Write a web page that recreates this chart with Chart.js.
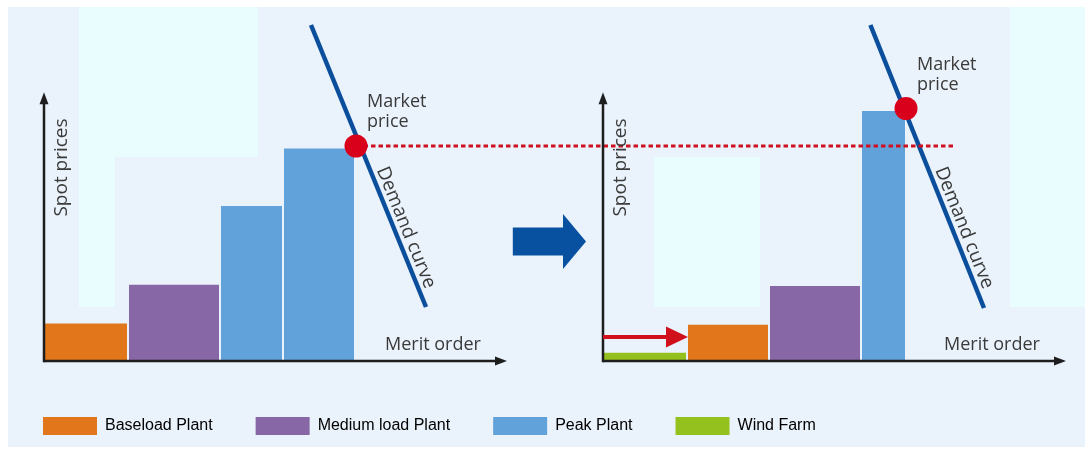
<!DOCTYPE html>
<html>
<head>
<meta charset="utf-8">
<script src="https://cdn.jsdelivr.net/npm/chart.js"></script>
<style>
  html, body { margin: 0; padding: 0; background: #fff; }
</style>
</head>
<body>
<canvas id="meritChart" width="1088" height="452"></canvas>
<script>
// plant types shown in the legend
var plantTypes = ["Baseload Plant", "Medium load Plant", "Peak Plant", "Wind Farm"];
var plantColors = ["#E2761A", "#8767A6", "#62A2DB", "#95C11F"];

// merit order before wind: capacity of each block and its price
var beforePlants = ["Baseload Plant", "Medium load Plant", "Peak Plant", "Peak Plant"];
var beforeWidths = [21, 23, 15.75, 17.75];
var beforePrices = [15, 30.5, 62, 85];

// merit order with the wind farm in front
var afterPlants = ["Wind Farm", "Baseload Plant", "Medium load Plant", "Peak Plant"];
var afterWidths = [21, 20.5, 23, 11];
var afterPrices = [3.3, 14.5, 30, 100];

// demand curve ends [capacity, price] and the clearing point
var demandBefore = [[66.75, 134.4], [95.5, 21.6]];
var demandAfter = [[66.85, 134.4], [95.25, 21.2]];
var marketBefore = [78, 86];
var marketAfter = [75.75, 101];

// second diagram sits to the right of the first one
var panelShift = 139.75;
var axisLen = { x: 115.75, y: 107.5 };
var oldPriceEnd = 87.5;
var captionLevel = 75.6;

var colorOf = {};
plantTypes.forEach(function (t, i) { colorOf[t] = plantColors[i]; });

function blocks(plants, widths, prices, shift) {
  var sets = [];
  var x = 0;
  for (var i = 0; i < widths.length; i++) {
    var x0 = x + (i > 0 ? 0.25 : 0);
    var x1 = x + widths[i] - (i < widths.length - 1 ? 0.25 : 0);
    sets.push({
      label: plants[i],
      data: [
        { x: shift + x0, y: 0 }, { x: shift + x0, y: prices[i] },
        { x: shift + x1, y: prices[i] }, { x: shift + x1, y: 0 }
      ],
      backgroundColor: colorOf[plants[i]],
      borderWidth: 0,
      pointRadius: 0,
      fill: 'origin',
      order: 5
    });
    x += widths[i];
  }
  return sets;
}

function demandLine(ends, shift) {
  return {
    label: 'Demand curve',
    data: ends.map(function (p) { return { x: shift + p[0], y: p[1] }; }),
    borderColor: '#0B4F9C',
    borderWidth: 4.5,
    pointRadius: 0,
    fill: false,
    order: 3
  };
}

var datasets = [
  {
    label: 'Market price',
    data: [
      { x: marketBefore[0], y: marketBefore[1] },
      { x: panelShift + marketAfter[0], y: marketAfter[1] }
    ],
    showLine: false,
    pointRadius: 11.5,
    pointBackgroundColor: '#D8001B',
    pointBorderWidth: 0,
    order: 1
  },
  {
    label: 'Old price',
    data: [
      { x: marketBefore[0], y: marketBefore[1] },
      { x: panelShift + oldPriceEnd, y: marketBefore[1] }
    ],
    borderColor: '#CF1020',
    borderWidth: 3,
    borderDash: [4.5, 3],
    pointRadius: 0,
    fill: false,
    order: 2
  },
  demandLine(demandBefore, 0),
  demandLine(demandAfter, panelShift)
].concat(blocks(beforePlants, beforeWidths, beforePrices, 0))
 .concat(blocks(afterPlants, afterWidths, afterPrices, panelShift));

function arrowLine(ctx, x0, y0, x1, y1, width, headLen, headHalf, color) {
  var a = Math.atan2(y1 - y0, x1 - x0);
  ctx.save();
  ctx.translate(x0, y0);
  ctx.rotate(a);
  var len = Math.hypot(x1 - x0, y1 - y0);
  ctx.fillStyle = color;
  ctx.fillRect(0, -width / 2, len - headLen + 1, width);
  ctx.beginPath();
  ctx.moveTo(len, 0);
  ctx.lineTo(len - headLen, -headHalf);
  ctx.lineTo(len - headLen, headHalf);
  ctx.closePath();
  ctx.fill();
  ctx.restore();
}

var backdrop = {
  id: 'backdrop',
  beforeDraw: function (chart) {
    var ctx = chart.ctx;
    ctx.save();
    ctx.fillStyle = '#ffffff';
    ctx.fillRect(0, 0, chart.width, chart.height);
    ctx.fillStyle = '#EAF2FB';
    ctx.fillRect(8, 7, 1077, 440);
    ctx.fillStyle = '#E9FCFE';
    ctx.fillRect(79, 7, 179, 150);
    ctx.fillRect(79, 157, 36, 150);
    ctx.fillRect(654, 157, 106, 150);
    ctx.fillRect(1010, 7, 75, 300);
    ctx.restore();
  }
};

var annotations = {
  id: 'annotations',
  afterDatasetsDraw: function (chart) {
    var ctx = chart.ctx;
    var sx = chart.scales.x, sy = chart.scales.y;
    ctx.save();

    // axes of both diagrams
    [0, panelShift].forEach(function (s) {
      var ox = sx.getPixelForValue(s), oy = sy.getPixelForValue(0);
      arrowLine(ctx, ox, oy, sx.getPixelForValue(s + axisLen.x), oy, 2.5, 12, 4.5, '#1E1E1E');
      arrowLine(ctx, ox, oy + 1.25, ox, sy.getPixelForValue(axisLen.y), 2.5, 12, 4.5, '#1E1E1E');

      ctx.fillStyle = '#3A3A3A';
      ctx.font = '18px "Open Sans"';
      ctx.textBaseline = 'alphabetic';
      ctx.textAlign = 'left';
      ctx.fillText('Merit order', ox + 341, oy - 11);

      ctx.save();
      ctx.font = '19px "Open Sans"';
      ctx.translate(ox + 18, sy.getPixelForValue(77.4));
      ctx.rotate(-Math.PI / 2);
      ctx.textAlign = 'center';
      ctx.textBaseline = 'middle';
      ctx.fillText('Spot prices', 0, 0);
      ctx.restore();
    });

    // price labels and demand curve captions
    [[marketBefore, demandBefore, 0], [marketAfter, demandAfter, panelShift]].forEach(function (d) {
      var m = d[0], ends = d[1], s = d[2];
      var mx = sx.getPixelForValue(s + m[0]), my = sy.getPixelForValue(m[1]);
      ctx.fillStyle = '#3A3A3A';
      ctx.font = '18px "Open Sans"';
      ctx.textAlign = 'left';
      ctx.textBaseline = 'alphabetic';
      ctx.fillText('Market', mx + 11, my - 39);
      ctx.fillText('price', mx + 11, my - 19);

      // caption runs along the line, starting where it crosses captionLevel
      var p0 = { x: sx.getPixelForValue(s + ends[0][0]), y: sy.getPixelForValue(ends[0][1]) };
      var p1 = { x: sx.getPixelForValue(s + ends[1][0]), y: sy.getPixelForValue(ends[1][1]) };
      var f = (sy.getPixelForValue(captionLevel) - p0.y) / (p1.y - p0.y);
      ctx.save();
      ctx.font = '19px "Open Sans"';
      ctx.translate(p0.x + (p1.x - p0.x) * f, p0.y + (p1.y - p0.y) * f);
      ctx.rotate(Math.atan2(p1.y - p0.y, p1.x - p0.x));
      ctx.fillText('Demand curve', 0, -6);
      ctx.restore();
    });

    // wind capacity pushes the merit order to the right
    var wy = sy.getPixelForValue(9.6);
    arrowLine(ctx, sx.getPixelForValue(panelShift), wy,
      sx.getPixelForValue(panelShift + afterWidths[0] + 0.25), wy, 4, 22, 10.5, '#D0101A');

    // big arrow between the two diagrams
    var ax0 = sx.getPixelForValue(117.2), ax1 = sx.getPixelForValue(135.5), ay = sy.getPixelForValue(47.8);
    arrowLine(ctx, ax0, ay, ax1, ay, 28, 23, 27.5, '#0751A0');

    ctx.restore();
  }
};

new Chart(document.getElementById('meritChart'), {
  type: 'line',
  data: { datasets: datasets },
  options: {
    responsive: false,
    animation: false,
    devicePixelRatio: 1,
    layout: { padding: { bottom: 7 } },
    scales: {
      x: { type: 'linear', display: false, min: -8.125, max: 258.125 },
      y: { type: 'linear', display: false, min: -5.2, max: 139.8 }
    },
    plugins: {
      tooltip: { enabled: false },
      legend: {
        position: 'bottom',
        align: 'start',
        labels: {
          boxWidth: 54,
          boxHeight: 18,
          padding: 43,
          color: '#4A4A4A',
          font: { family: '"Liberation Sans", Arial, sans-serif', size: 16 },
          generateLabels: function () {
            return plantTypes.map(function (t, i) {
              return { text: t, fillStyle: plantColors[i], strokeStyle: plantColors[i], lineWidth: 0, hidden: false };
            });
          }
        }
      }
    }
  },
  plugins: [backdrop, annotations]
});
</script>
</body>
</html>
